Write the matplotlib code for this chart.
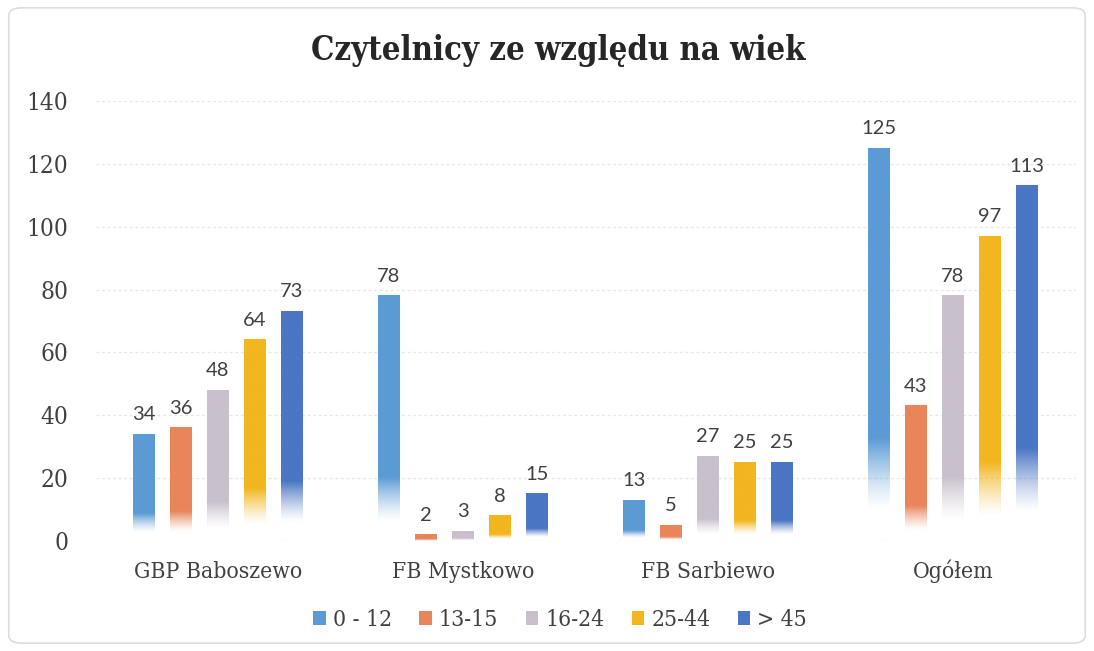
import numpy as np
import matplotlib
matplotlib.use("Agg")
from matplotlib import pyplot as plt
from matplotlib.patches import Patch, FancyBboxPatch
from matplotlib.colors import to_rgb

categories = ["GBP Baboszewo", "FB Mystkowo", "FB Sarbiewo", "Ogółem"]
series_names = ["0 - 12", "13-15", "16-24", "25-44", "> 45"]
values = {
    "0 - 12": [34, 78, 13, 125],
    "13-15": [36, 2, 5, 43],
    "16-24": [48, 3, 27, 78],
    "25-44": [64, 8, 25, 97],
    "> 45": [73, 15, 25, 113],
}
colors = ["#5b9bd5", "#e8865a", "#c9c0cc", "#f2b61f", "#4a76c4"]
yticks = [0, 20, 40, 60, 80, 100, 120, 140]

serif = "DejaVu Serif"

fig = plt.figure(figsize=(10.94, 6.51), dpi=100)
ax = fig.add_axes([95.5 / 1094, 1 - 541 / 651, 980 / 1094, 440 / 651])

# zaokrąglona ramka wykresu
fig.patches.append(FancyBboxPatch((0.008, 0.012), 0.984, 0.976, boxstyle="round,pad=0,rounding_size=0.012",
                                  transform=fig.transFigure, fill=False, edgecolor="#dcdcdc", linewidth=1.2))

x = np.arange(len(categories))
step = 0.151
width = 0.086

for i, name in enumerate(series_names):
    rgb = np.array(to_rgb(colors[i]))
    pos = x + (i - 2) * step
    bars = ax.bar(pos, values[name], width, color="none", edgecolor="none", zorder=1)
    for b, v in zip(bars, values[name]):
        # gradient - słupek zanika do białego przy dole
        f = np.linspace(0, 1, 300)
        alpha = np.clip((f - 0.08) / 0.18, 0, 1) ** 1.3
        img = np.zeros((300, 1, 4))
        img[:, 0, :3] = rgb
        img[:, 0, 3] = alpha
        x0 = b.get_x()
        ax.imshow(img, extent=[x0, x0 + width, 0, v], origin="lower", aspect="auto",
                  interpolation="bilinear", zorder=2)
        ax.annotate(str(v), (x0 + width / 2, v), xytext=(0, 8), textcoords="offset points",
                    ha="center", va="bottom", fontsize=14.5, family="Lato", color="#404040")

ax.set_xlim(-0.5, 3.5)
ax.set_ylim(0, 140)
ax.set_yticks(yticks)
ax.set_xticks(x)
ax.set_xticklabels(categories, fontsize=16.5, color="#404040", family=serif,
                   fontstretch="condensed", va="baseline")
for t in ax.get_yticklabels():
    t.set_fontsize(17.5)
    t.set_color("#404040")
    t.set_family(serif)
    t.set_fontstretch("condensed")
ax.tick_params(axis="x", length=0, pad=26.5)
ax.tick_params(axis="y", length=0, pad=19.5)
ax.grid(axis="y", color="#e6e6e6", linestyle=(0, (2, 2)), linewidth=1)
ax.set_axisbelow(True)
for s in ax.spines.values():
    s.set_visible(False)

fig.text(558 / 1094, 1 - 60 / 651, "Czytelnicy ze względu na wiek", ha="center", va="baseline",
         fontsize=23.5, fontweight="bold", color="#262626", family=serif, fontstretch="condensed")

handles = [Patch(facecolor=c, edgecolor="none") for c in colors]
fig.legend(handles, series_names, loc="center", bbox_to_anchor=(0.512, 1 - 620 / 651), ncol=5, frameon=False,
           handlelength=0.55, handleheight=0.55, handletextpad=0.3, columnspacing=1.2,
           prop=dict(family=serif, stretch="condensed", size=16.5), labelcolor="#404040")

fig.savefig("out.png", dpi=100, facecolor="white")
